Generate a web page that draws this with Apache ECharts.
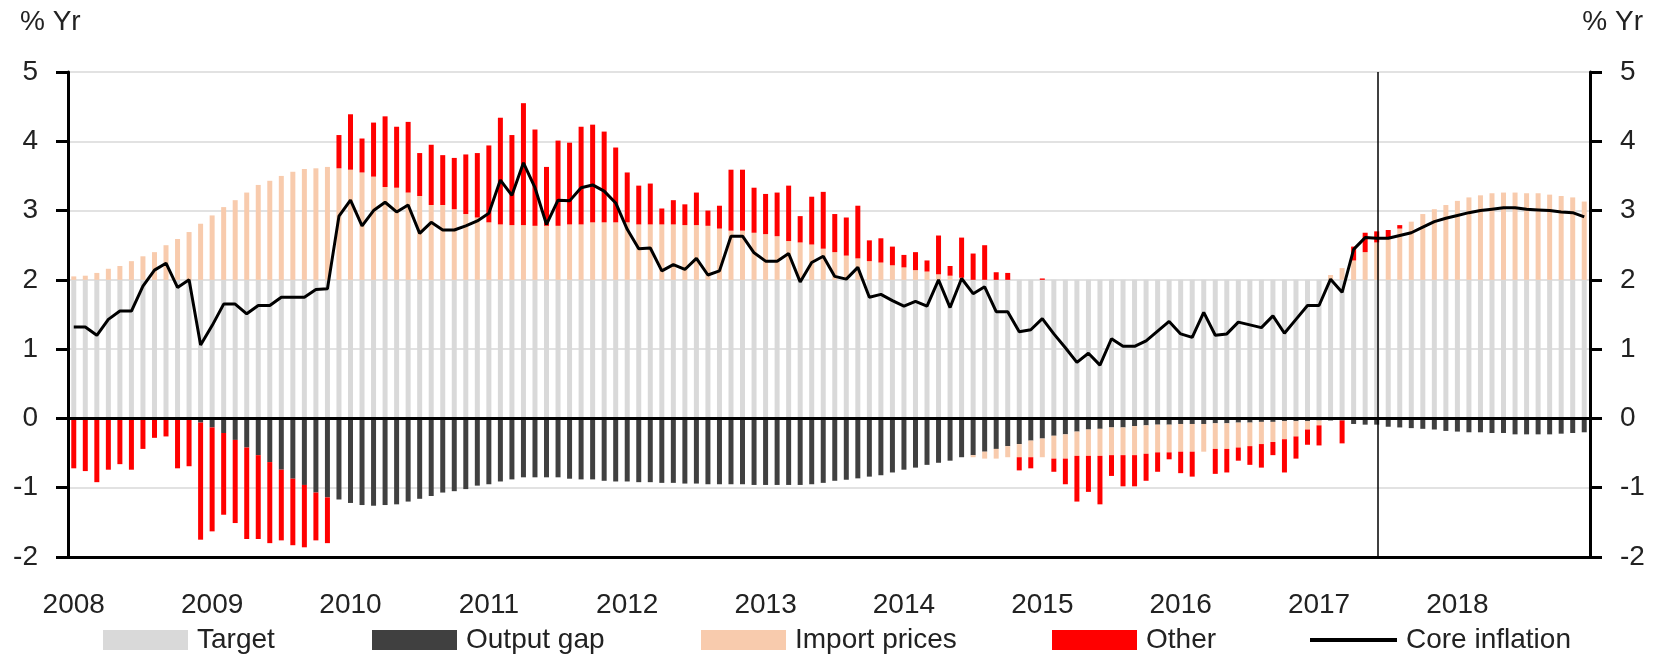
<!DOCTYPE html>
<html>
<head>
<meta charset="utf-8">
<script src="https://cdn.jsdelivr.net/npm/echarts@6/dist/echarts.min.js"></script>
<style>
html, body { margin: 0; padding: 0; background: #fff; }
#chart { width: 1658px; height: 660px; }
</style>
</head>
<body>
<div id="chart"></div>
<script>
// monthly contributions to core inflation, 2008-2018
var years = ['2008', '2009', '2010', '2011', '2012', '2013', '2014', '2015', '2016', '2017', '2018'];

var target = [
  2, 2, 2, 2, 2, 2, 2, 2, 2, 2, 2, 2,
  2, 2, 2, 2, 2, 2, 2, 2, 2, 2, 2, 2,
  2, 2, 2, 2, 2, 2, 2, 2, 2, 2, 2, 2,
  2, 2, 2, 2, 2, 2, 2, 2, 2, 2, 2, 2,
  2, 2, 2, 2, 2, 2, 2, 2, 2, 2, 2, 2,
  2, 2, 2, 2, 2, 2, 2, 2, 2, 2, 2, 2,
  2, 2, 2, 2, 2, 2, 2, 2, 2, 2, 2, 2,
  2, 2, 2, 2, 2, 2, 2, 2, 2, 2, 2, 2,
  2, 2, 2, 2, 2, 2, 2, 2, 2, 2, 2, 2,
  2, 2, 2, 2, 2, 2, 2, 2, 2, 2, 2, 2,
  2, 2, 2, 2, 2, 2, 2, 2, 2, 2, 2, 2
];

var outputGap = [
  0, 0, 0, 0, 0, 0, 0, 0, 0, 0, 0, -0.06,
  -0.13, -0.21, -0.31, -0.42, -0.53, -0.63, -0.74, -0.87, -0.96, -1.07, -1.14, -1.17,
  -1.22, -1.25, -1.26, -1.25, -1.24, -1.20, -1.16, -1.12, -1.07, -1.05, -1.02, -0.97,
  -0.95, -0.91, -0.88, -0.85, -0.85, -0.85, -0.85, -0.87, -0.88, -0.88, -0.90, -0.91,
  -0.91, -0.92, -0.92, -0.93, -0.93, -0.94, -0.94, -0.95, -0.95, -0.95, -0.95, -0.96,
  -0.96, -0.96, -0.96, -0.96, -0.95, -0.93, -0.90, -0.885, -0.865, -0.84, -0.82, -0.78,
  -0.74, -0.71, -0.67, -0.64, -0.61, -0.56, -0.53, -0.48, -0.44, -0.40, -0.37, -0.32,
  -0.29, -0.25, -0.23, -0.19, -0.16, -0.15, -0.13, -0.13, -0.11, -0.10, -0.09, -0.09,
  -0.08, -0.08, -0.08, -0.07, -0.07, -0.06, -0.06, -0.05, -0.05, -0.04, -0.04, -0.04,
  -0.03, -0.03, -0.03, -0.08, -0.09, -0.09, -0.12, -0.13, -0.14, -0.15, -0.16, -0.18,
  -0.19, -0.20, -0.20, -0.21, -0.21, -0.23, -0.23, -0.23, -0.23, -0.22, -0.21, -0.20
];

var importPrices = [
  0.05, 0.06, 0.10, 0.16, 0.20, 0.27, 0.34, 0.40, 0.50, 0.59, 0.69, 0.81,
  0.93, 1.05, 1.15, 1.26, 1.37, 1.43, 1.50, 1.56, 1.60, 1.61, 1.63, 1.61,
  1.59, 1.55, 1.49, 1.34, 1.33, 1.26, 1.21, 1.08, 1.08, 1.02, 0.95, 0.90,
  0.83, 0.80, 0.79, 0.79, 0.78, 0.78, 0.78, 0.80, 0.80, 0.83, 0.83, 0.83,
  0.83, 0.80, 0.80, 0.80, 0.80, 0.79, 0.79, 0.78, 0.74, 0.71, 0.71, 0.68,
  0.66, 0.63, 0.56, 0.54, 0.51, 0.45, 0.40, 0.35, 0.31, 0.27, 0.25, 0.21,
  0.18, 0.14, 0.12, 0.08, 0.06, 0.03, -0.03, -0.10, -0.14, -0.16, -0.19, -0.24,
  -0.27, -0.33, -0.35, -0.35, -0.38, -0.39, -0.40, -0.40, -0.42, -0.41, -0.40, -0.40,
  -0.40, -0.40, -0.40, -0.37, -0.37, -0.36, -0.34, -0.32, -0.29, -0.26, -0.22, -0.12,
  -0.07, 0.07, 0.17, 0.28, 0.40, 0.54, 0.59, 0.74, 0.84, 0.95, 1.02, 1.08,
  1.14, 1.19, 1.22, 1.25, 1.26, 1.26, 1.25, 1.25, 1.23, 1.21, 1.19, 1.13
];

var other = [
  -0.72, -0.76, -0.92, -0.74, -0.66, -0.74, -0.44, -0.28, -0.26, -0.72, -0.69, -1.69,
  -1.50, -1.18, -1.20, -1.32, -1.21, -1.17, -1.02, -0.96, -0.90, -0.69, -0.66, 0.48,
  0.80, 0.49, 0.78, 1.02, 0.88, 1.02, 0.62, 0.87, 0.72, 0.74, 0.86, 0.93,
  1.11, 1.54, 1.30, 1.76, 1.39, 0.85, 1.23, 1.18, 1.41, 1.41, 1.31, 1.08,
  0.72, 0.56, 0.59, 0.23, 0.35, 0.30, 0.47, 0.22, 0.33, 0.88, 0.88, 0.65,
  0.58, 0.63, 0.80, 0.38, 0.69, 0.82, 0.55, 0.55, 0.76, 0.30, 0.35, 0.27,
  0.18, 0.26, 0.16, 0.56, 0.14, 0.58, 0.38, 0.50, 0.11, 0.10, -0.19, -0.16,
  0.02, -0.19, -0.37, -0.66, -0.52, -0.70, -0.30, -0.45, -0.45, -0.39, -0.28, -0.10,
  -0.31, -0.36, 0, -0.36, -0.34, -0.19, -0.27, -0.34, -0.19, -0.48, -0.32, -0.22,
  -0.29, 0, -0.33, 0.20, 0.28, 0.16, 0.13, 0.05, 0, 0, 0, 0,
  0, 0, 0, 0, 0, 0, 0, 0, 0, 0, 0, 0
];

var coreInflation = [
  1.32, 1.32, 1.20, 1.43, 1.55, 1.55, 1.91, 2.14, 2.24, 1.89, 2.00, 1.06,
  1.34, 1.65, 1.65, 1.51, 1.63, 1.63, 1.75, 1.75, 1.75, 1.86, 1.87, 2.92,
  3.15, 2.78, 3.00, 3.12, 2.98, 3.08, 2.67, 2.83, 2.72, 2.72, 2.78, 2.85,
  2.96, 3.44, 3.22, 3.69, 3.33, 2.80, 3.15, 3.14, 3.33, 3.37, 3.28, 3.11,
  2.73, 2.45, 2.46, 2.13, 2.22, 2.15, 2.31, 2.07, 2.13, 2.63, 2.63, 2.39,
  2.27, 2.27, 2.38, 1.97, 2.25, 2.34, 2.05, 2.01, 2.18, 1.75, 1.79, 1.70,
  1.62, 1.69, 1.62, 2.00, 1.60, 2.02, 1.80, 1.90, 1.54, 1.54, 1.25, 1.28,
  1.44, 1.22, 1.02, 0.81, 0.94, 0.77, 1.15, 1.04, 1.04, 1.12, 1.26, 1.40,
  1.22, 1.17, 1.53, 1.20, 1.22, 1.39, 1.35, 1.31, 1.48, 1.23, 1.43, 1.63,
  1.63, 2.01, 1.82, 2.44, 2.61, 2.60, 2.60, 2.64, 2.68, 2.76, 2.84, 2.89,
  2.93, 2.97, 3.00, 3.02, 3.04, 3.04, 3.02, 3.01, 3.00, 2.98, 2.97, 2.91
];

// month index where the forecast starts (vertical line)
var forecastStart = 113.6;

var months = [];
for (var y = 0; y < years.length; y++) {
  for (var m = 1; m <= 12; m++) {
    months.push(years[y] + '-' + (m < 10 ? '0' + m : m));
  }
}

var FONT = "'Liberation Sans', Arial, sans-serif";
var FS = 28;
var TEXT = '#222';

function yAxisOf(pos) {
  return {
    type: 'value',
    position: pos,
    min: -2,
    max: 5,
    interval: 1,
    axisLine: { show: true, lineStyle: { color: '#000', width: 3 } },
    axisTick: { show: true, length: 12, lineStyle: { color: '#000', width: 3 } },
    axisLabel: { margin: 30, color: TEXT, fontSize: FS, fontFamily: FONT },
    splitLine: { show: pos === 'left', lineStyle: { color: '#d9d9d9', width: 1.5 } }
  };
}

function barSeries(name, data, color) {
  return {
    name: name,
    type: 'bar',
    stack: 'total',
    barWidth: 5,
    silent: true,
    itemStyle: { color: color },
    data: data
  };
}

function legendOf(name, left, extra) {
  var l = {
    data: [name],
    left: left,
    top: 626,
    padding: 0,
    icon: 'rect',
    itemWidth: 85,
    itemHeight: 20,
    selectedMode: false,
    textStyle: { color: TEXT, fontSize: FS, fontFamily: FONT, padding: [0, 0, 0, 4] }
  };
  for (var k in extra) l[k] = extra[k];
  return l;
}

var myChart = echarts.init(document.getElementById('chart'));

var option = {
  animation: false,
  backgroundColor: '#fff',
  grid: { left: 68, right: 68, top: 72, bottom: 103, containLabel: false },
  legend: [
    legendOf('Target', 103),
    legendOf('Output gap', 372),
    legendOf('Import prices', 701),
    legendOf('Other', 1052),
    legendOf('Core inflation', 1310, { itemWidth: 87, itemHeight: 4 })
  ],
  graphic: [
    { type: 'text', left: 20, top: 8, style: { text: '% Yr', fontSize: FS, fontFamily: FONT, fill: TEXT } },
    { type: 'text', right: 15, top: 8, style: { text: '% Yr', fontSize: FS, fontFamily: FONT, fill: TEXT } }
  ],
  xAxis: [{
    type: 'category',
    data: months,
    boundaryGap: true,
    axisLine: { onZero: false, lineStyle: { color: '#000', width: 3 } },
    axisTick: {
      length: 10,
      lineStyle: { color: '#000', width: 3 },
      interval: function (i) { return i % 12 === 0; }
    },
    axisLabel: {
      margin: 34,
      color: TEXT,
      fontSize: FS,
      fontFamily: FONT,
      interval: function (i) { return i % 12 === 0; },
      formatter: function (v) { return v.slice(0, 4); }
    },
    splitLine: { show: false }
  }, {
    type: 'value',
    min: 0,
    max: months.length,
    show: false
  }],
  yAxis: [yAxisOf('left'), yAxisOf('right')],
  series: [
    barSeries('Target', target, '#d9d9d9'),
    barSeries('Output gap', outputGap, '#404040'),
    barSeries('Import prices', importPrices, '#f8cbad'),
    barSeries('Other', other, '#ff0000'),
    {
      name: 'Core inflation',
      type: 'line',
      data: coreInflation,
      symbol: 'none',
      silent: true,
      z: 5,
      itemStyle: { color: '#000' },
      lineStyle: { color: '#000', width: 3 },
      markLine: {
        silent: true,
        symbol: 'none',
        label: { show: false },
        lineStyle: { color: '#000', width: 3, type: 'solid' },
        data: [{ yAxis: 0 }]
      }
    },
    {
      name: 'forecast',
      type: 'line',
      xAxisIndex: 1,
      yAxisIndex: 0,
      data: [],
      silent: true,
      markLine: {
        silent: true,
        symbol: 'none',
        label: { show: false },
        lineStyle: { color: '#000', width: 1.5, type: 'solid' },
        data: [{ xAxis: forecastStart }]
      }
    }
  ]
};

myChart.setOption(option);
</script>
</body>
</html>
